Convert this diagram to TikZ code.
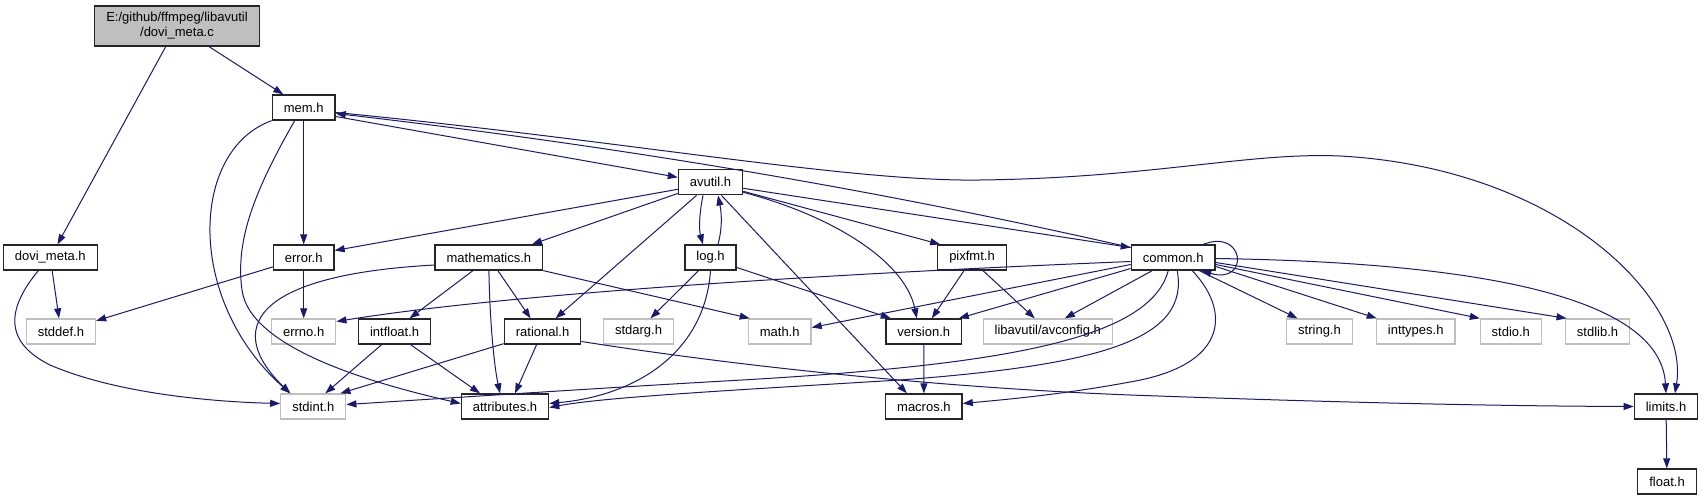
\documentclass[tikz,border=0pt]{standalone}
\usepackage{fontspec}
\setmainfont{Liberation Sans}
\usetikzlibrary{arrows.meta}
\definecolor{edgec}{RGB}{25,25,112}
\definecolor{grayf}{RGB}{191,191,191}
\begin{document}
\begin{tikzpicture}[x=1pt,y=-1pt,
  doc/.style={draw=black!85, line width=1.3pt, fill=white, minimum height=25pt, inner xsep=11.5pt, inner ysep=0pt, font=\fontsize{13}{15}\selectfont},
  ext/.style={doc, draw=grayf},
  rootn/.style={doc, fill=grayf, minimum height=40pt, align=center},
  e/.style={draw=edgec, line width=1pt, -{Triangle[length=10pt,width=7pt]}}]
\fill[white] (0,0) rectangle (1704,500);
\useasboundingbox (0,0) rectangle (1704,500);
% nodes
\node[rootn] (root) at (177,26) {E:/github/ffmpeg/libavutil\\/dovi\_meta.c};
\node[doc] (mem) at (303.7,107.5) {mem.h};
\node[doc] (avutil) at (710.5,182.3) {avutil.h};
\node[doc] (dovimetah) at (50.3,257.5) {dovi\_meta.h};
\node[doc] (error) at (303.7,257.5) {error.h};
\node[doc] (mathematics) at (488.9,257.5) {mathematics.h};
\node[doc] (log) at (710.5,257.5) {log.h};
\node[doc] (pixfmt) at (972,257.5) {pixfmt.h};
\node[doc] (common) at (1173.2,257.5) {common.h};
\node[ext] (stddef) at (60.9,331.5) {stddef.h};
\node[ext] (errno) at (303.7,331.5) {errno.h};
\node[doc] (intfloat) at (394.6,331.5) {intfloat.h};
\node[doc] (rational) at (542.6,331.5) {rational.h};
\node[ext] (stdarg) at (638.5,331.5) {stdarg.h};
\node[ext] (math) at (779.7,331.5) {math.h};
\node[doc] (version) at (923.8,331.5) {version.h};
\node[ext] (avconfig) at (1047.8,331.5) {libavutil/avconfig.h};
\node[ext] (string) at (1319.5,331.5) {string.h};
\node[ext] (inttypes) at (1415.7,331.5) {inttypes.h};
\node[ext] (stdio) at (1510.8,331.5) {stdio.h};
\node[ext] (stdlib) at (1597.5,331.5) {stdlib.h};
\node[ext] (stdint) at (313.3,406.5) {stdint.h};
\node[doc] (attributes) at (505,406.5) {attributes.h};
\node[doc] (macros) at (923.9,406.5) {macros.h};
\node[doc] (limits) at (1666,406.5) {limits.h};
\node[doc] (float) at (1667,481.5) {float.h};
% root
\draw[e] (root) -- (mem);
\draw[e] (root) -- (dovimetah);
% mem
\draw[e] (mem) -- (error);
\draw[e] ([yshift=-9pt]mem.east) -- ([yshift=5pt]avutil.west);
\draw[e] (mem.south west) .. controls (190,150) and (185,300) .. ([xshift=-23pt]stdint.north);
\draw[e] ([xshift=-9pt]mem.south) .. controls (255,190) and (235,240) .. (242,290) .. controls (250,350) and (380,385) .. ([yshift=3pt]attributes.west);
\draw[e] ([yshift=-5pt]mem.east) .. controls (620,140) and (850,182) .. (980,180) .. controls (1150,178) and (1250,152) .. (1340,156) .. controls (1560,168) and (1690,300) .. ([xshift=9pt]limits.north);
% avutil
\draw[e] ([yshift=-7pt]avutil.west) -- ([yshift=7pt]error.east);
\draw[e] ([yshift=2pt]avutil.south west) -- ([xshift=43pt]mathematics.north);
\draw[e] ([xshift=-7.5pt]avutil.south) .. controls (699,215) and (699,230) .. ([xshift=-7.5pt]log.north);
\draw[e] ([xshift=7.5pt]log.north) .. controls (722,230) and (722,215) .. ([xshift=7.5pt]avutil.south);
\draw[e] ([xshift=-14pt]avutil.south) -- ([xshift=13pt]rational.north);
\draw[e] ([xshift=11pt]avutil.south) -- ([xshift=-17pt]macros.north);
\draw[e] ([yshift=-10pt]avutil.east) .. controls (830,215) and (905,260) .. ([xshift=-7pt]version.north);
\draw[e] ([yshift=-9pt]avutil.east) -- ([xshift=3pt]pixfmt.north west);
\draw[e] ([yshift=-6pt]avutil.east) -- ([yshift=10pt]common.west);
% mathematics
\draw[e] ([xshift=-16pt]mathematics.south) -- ([xshift=15pt]intfloat.north);
\draw[e] (mathematics.south) .. controls (490,330) and (495,370) .. ([xshift=-5pt]attributes.north);
\draw[e] ([xshift=9pt]mathematics.south) -- ([xshift=-12pt]rational.north);
\draw[e] (mathematics.south east) -- ([xshift=2pt]math.north west);
\draw[e] ([yshift=-7.5pt]mathematics.west) .. controls (250,275) and (225,330) .. ([xshift=-23pt]stdint.north);
% error, dovi_meta.h
\draw[e] (error) -- (stddef);
\draw[e] (error) -- (errno);
\draw[e] (dovimetah) -- (stddef);
\draw[e] ([xshift=-12pt]dovimetah.south) .. controls (10,305) and (0,340) .. (50,365) .. controls (120,395) and (220,402) .. ([yshift=3pt]stdint.west);
% intfloat, rational
\draw[e] ([xshift=-13pt]intfloat.south) -- ([xshift=12pt]stdint.north);
\draw[e] ([xshift=16pt]intfloat.south) -- ([xshift=-25pt]attributes.north);
\draw[e] ([yshift=1pt]rational.south west) -- ([xshift=-6pt]stdint.north east);
\draw[e] ([xshift=-6pt]rational.south) -- ([xshift=10pt]attributes.north);
\draw[e] ([yshift=-10pt]rational.east) .. controls (750,368) and (950,388) .. (1130,395) .. controls (1350,403) and (1500,406) .. (limits.west);
% log
\draw[e] ([xshift=-12pt]log.south) -- ([xshift=12pt]stdarg.north);
\draw[e] ([yshift=-10pt]log.east) -- ([xshift=-33pt]version.north);
\draw[e] (log.south) .. controls (705,350) and (640,395) .. ([yshift=3pt]attributes.east);
% pixfmt, version
\draw[e] ([xshift=-8pt]pixfmt.south) -- ([xshift=8pt]version.north);
\draw[e] ([xshift=11pt]pixfmt.south) -- ([xshift=-13pt]avconfig.north);
\draw[e] (version) -- (macros);
% common
\draw[e] ([yshift=10pt]common.west) .. controls (900,195) and (650,150) .. ([yshift=-6pt]mem.east);
\draw[e] ([yshift=-4pt]common.west) .. controls (800,275) and (500,295) .. ([yshift=10pt]errno.east);
\draw[e] ([yshift=-7pt]common.west) -- ([yshift=4pt]math.east);
\draw[e] ([yshift=-11pt]common.west) -- ([xshift=35pt]version.north);
\draw[e] ([xshift=-21pt]common.south) -- ([xshift=17pt]avconfig.north);
\draw[e] ([xshift=-5pt]common.south) .. controls (1150,340) and (1000,365) .. (742,380) .. controls (600,388) and (450,398) .. ([yshift=2pt]stdint.east);
\draw[e] ([xshift=4pt]common.south) .. controls (1190,340) and (1100,365) .. (900,380) .. controls (700,392) and (600,398) .. ([yshift=-1pt]attributes.east);
\draw[e] ([xshift=19pt]common.south) .. controls (1230,310) and (1230,365) .. (1130,382) .. controls (1060,395) and (1000,400) .. ([yshift=3pt]macros.east);
\draw[e] ([yshift=-1pt]common.east) .. controls (1450,262) and (1660,290) .. (limits.north);
\draw[e] ([xshift=26pt]common.south) -- ([xshift=-22pt]string.north);
\draw[e] ([yshift=-9pt]common.east) -- ([xshift=-39pt]inttypes.north);
\draw[e] ([yshift=-7pt]common.east) -- ([xshift=-31pt]stdio.north);
\draw[e] ([yshift=-5pt]common.east) -- ([xshift=-31pt]stdlib.north);
\draw[e] ([xshift=30pt]common.north) .. controls (1245,228) and (1250,285) .. ([xshift=28pt]common.south);
% limits
\draw[e] (limits) -- (float);
\end{tikzpicture}
\end{document}
